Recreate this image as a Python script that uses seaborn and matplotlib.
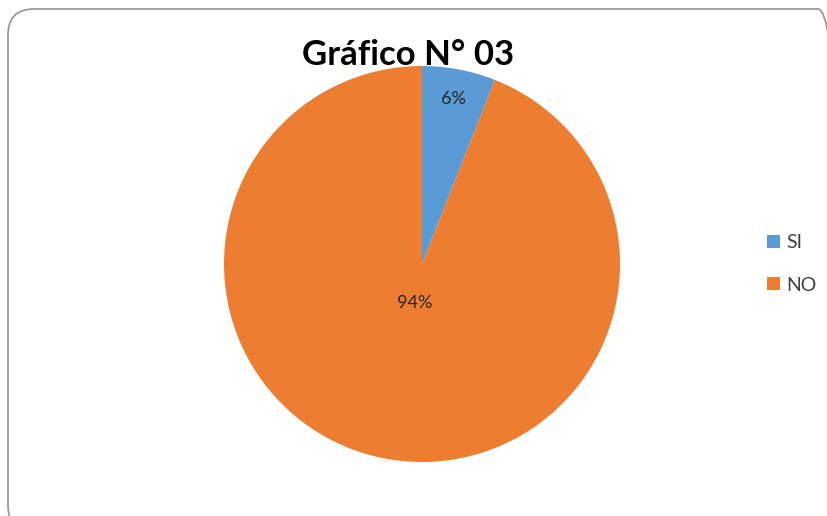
import matplotlib
matplotlib.use("Agg")
import matplotlib.pyplot as plt
from matplotlib.patches import FancyBboxPatch
import seaborn as sns

categorias = ["SI", "NO"]
porcentajes = [6, 94]
colores = ["#5B9BD5", "#ED7D31"]
titulo = "Gráfico N° 03"

sns.set_theme(style="white")
plt.rcParams['font.family'] = ['Lato', 'DejaVu Sans']

fig = plt.figure(figsize=(8.27, 5.16), dpi=100)
W, H = 827, 516

# marco redondeado tipo Excel (ejes auxiliares en píxeles)
fondo = fig.add_axes([0, 0, 1, 1])
fondo.set_xlim(0, W)
fondo.set_ylim(0, H)
fondo.axis("off")
fondo.add_patch(FancyBboxPatch((8, H - 9 - 522), 836, 522,
                               boxstyle="round,pad=0,rounding_size=26",
                               fill=False, edgecolor="#9a9a9a", linewidth=1.3))

cx, cy, r = 422, 264, 198
ax = fig.add_axes([(cx - r) / W, (H - cy - r) / H, 2 * r / W, 2 * r / H])
wedges, texts, autotexts = ax.pie(porcentajes, colors=sns.color_palette(colores),
                                  startangle=90, counterclock=False,
                                  autopct=lambda p: f"{p:.0f}%", pctdistance=0.6,
                                  wedgeprops=dict(linewidth=0),
                                  textprops=dict(fontsize=13, color="#262626"))
# posiciones de las etiquetas al estilo Excel
distancias = [0.85 / 0.6, 0.2 / 0.6]
for t, d in zip(autotexts, distancias):
    x, y = t.get_position()
    t.set_position((x * d, y * d))
ax.set_xlim(-1, 1)
ax.set_ylim(-1, 1)
ax.set_aspect("equal")

fig.text(408 / W, 1 - 55 / H, titulo, ha="center", va="center",
         fontsize=25, fontweight="bold", color="black")

fig.legend(wedges, categorias, loc="center left", bbox_to_anchor=(767 / W, 1 - 264 / H),
           frameon=False, fontsize=14, handlelength=0.65, handleheight=0.65,
           handletextpad=0.35, labelspacing=1.3, labelcolor="#404040",
           borderpad=0, borderaxespad=0)

fig.savefig("out.png", dpi=100, facecolor="white")
